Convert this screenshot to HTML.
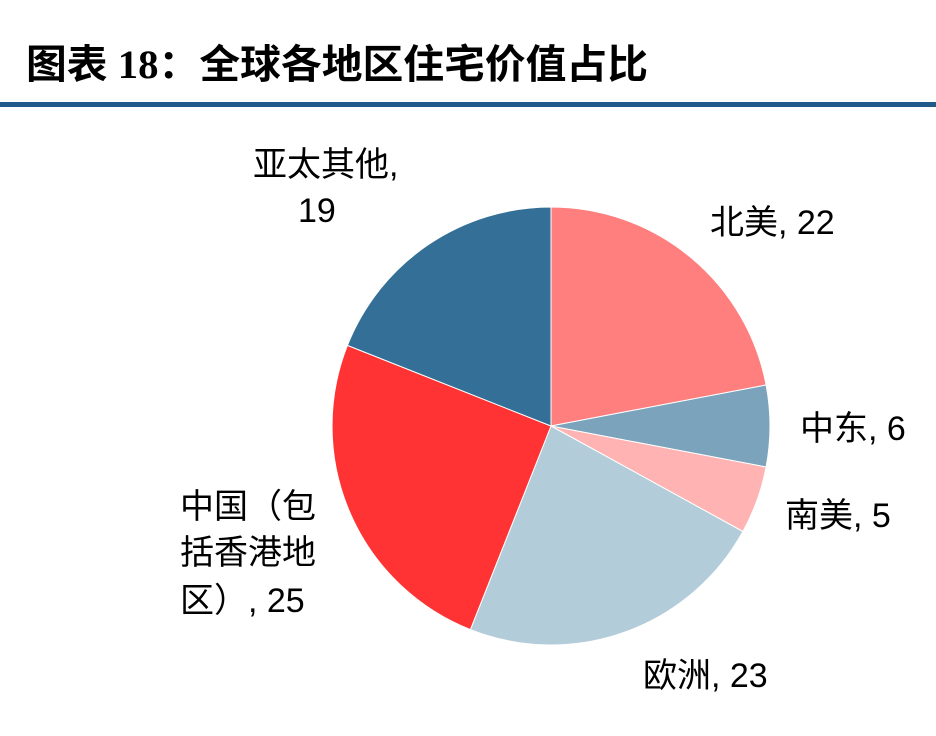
<!DOCTYPE html>
<html><head><meta charset="utf-8"><style>
body{margin:0;background:#fff;}
svg{display:block}
text{font-family:"Liberation Sans","Noto Sans CJK SC",sans-serif;fill:#000;}
</style></head><body>
<svg width="936" height="736" viewBox="0 0 936 736">
<rect width="936" height="736" fill="#fff"/>
<text x="26" y="78" font-size="40" font-weight="bold" style="font-family:'Liberation Serif','Noto Sans CJK SC',sans-serif" textLength="622" lengthAdjust="spacingAndGlyphs">图表 18：全球各地区住宅价值占比</text>
<rect x="0" y="102" width="936" height="5" fill="#1F5A8A"/>
<g stroke="#fff" stroke-width="1">
<path d="M551 426 L551 207 A219 219 0 0 1 766.1 385 Z" fill="#FF7F7F"/>
<path d="M551 426 L766.1 385 A219 219 0 0 1 766.1 467 Z" fill="#7BA3BC"/>
<path d="M551 426 L766.1 467 A219 219 0 0 1 742.9 531.5 Z" fill="#FFB3B3"/>
<path d="M551 426 L742.9 531.5 A219 219 0 0 1 470.4 629.6 Z" fill="#B3CCD9"/>
<path d="M551 426 L470.4 629.6 A219 219 0 0 1 347.4 345.4 Z" fill="#FF3333"/>
<path d="M551 426 L347.4 345.4 A219 219 0 0 1 551 207 Z" fill="#336F96"/>
</g>
<g font-size="34">
<text x="253" y="176">亚太其他,</text>
<text x="298" y="222">19</text>
<text x="710" y="234">北美, 22</text>
<text x="800" y="440">中东, 6</text>
<text x="785" y="527">南美, 5</text>
<text x="643" y="687">欧洲, 23</text>
<text x="180" y="518">中国（包</text>
<text x="180" y="564">括香港地</text>
<text x="180" y="612">区）, 25</text>
</g>
</svg>
</body></html>
